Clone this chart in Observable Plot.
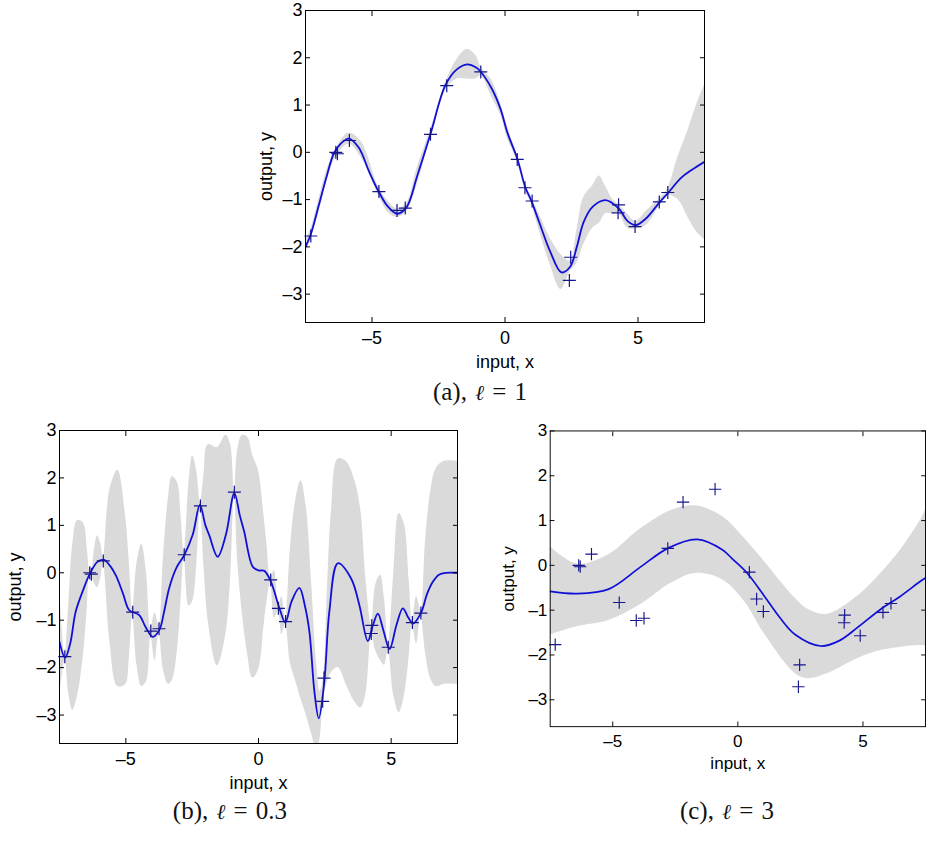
<!DOCTYPE html>
<html><head><meta charset="utf-8">
<script src="https://cdn.jsdelivr.net/npm/d3@7"></script>
<script src="https://cdn.jsdelivr.net/npm/@observablehq/plot@0.6"></script>
<style>
html,body{margin:0;padding:0;background:#fff;overflow:hidden;}
#root{position:relative;width:944px;height:841px;overflow:hidden;background:#fff;}
.panel{position:absolute;}
.cap{position:absolute;font-family:"Liberation Serif","DejaVu Serif",serif;font-size:25px;color:#111;transform:translate(-50%,-50%);white-space:nowrap;word-spacing:2px;}
.cap i{font-family:"DejaVu Serif",serif;font-style:italic;font-size:21px;}
</style></head><body><div id="root"></div><script>
// ---- data ----
const pointsX = [-7.3, -6.36, -6.3, -5.85, -4.74, -4.06, -3.75, -2.8, -2.19, -0.91, 0.46, 0.75, 1.02, 2.47, 2.42, 4.27, 4.25, 4.89, 5.8, 6.12];
const pointsY = [-1.77, 0.0, -0.03, 0.25, -0.83, -1.23, -1.18, 0.38, 1.41, 1.7, -0.15, -0.75, -1.03, -2.22, -2.71, -1.11, -1.28, -1.57, -1.05, -0.85];

// (a) l = 1
const meanAx = [-7.5, -7.31, -7.0, -6.7, -6.44, -6.2, -5.87, -5.5, -5.1, -4.74, -4.4, -4.05, -3.7, -3.3, -2.8, -2.24, -1.8, -1.42, -1.1, -0.92, -0.5, -0.17, 0.1, 0.46, 0.77, 0.98, 1.3, 1.7, 2.12, 2.45, 2.7, 2.96, 3.3, 3.78, 4.28, 4.6, 4.91, 5.3, 5.78, 6.16, 6.6, 7.0, 7.5];
const meanAy = [-2.0, -1.75, -1.12, -0.5, -0.03, 0.17, 0.29, 0.1, -0.42, -0.84, -1.15, -1.3, -1.16, -0.5, 0.39, 1.42, 1.76, 1.86, 1.8, 1.71, 1.35, 0.92, 0.4, -0.13, -0.75, -1.01, -1.5, -2.1, -2.54, -2.42, -2.0, -1.47, -1.15, -1.01, -1.19, -1.45, -1.54, -1.4, -1.08, -0.84, -0.55, -0.38, -0.2];
const bandAx = [-7.5, -7.31, -7.0, -6.7, -6.35, -5.87, -5.4, -4.74, -4.4, -4.05, -3.7, -3.3, -2.8, -2.2, -1.8, -1.42, -1.1, -0.9, -0.5, -0.17, 0.1, 0.46, 0.77, 0.98, 1.3, 1.7, 2.1, 2.45, 2.7, 2.96, 3.3, 3.55, 3.78, 4.05, 4.26, 4.6, 4.91, 5.3, 5.78, 6.12, 6.5, 6.9, 7.2, 7.5];
const bandAlo = [-2.15, -1.85, -1.28, -0.62, -0.1, 0.17, -0.12, -0.93, -1.27, -1.38, -1.25, -0.68, 0.3, 1.34, 1.55, 1.55, 1.55, 1.62, 1.17, 0.8, 0.28, -0.2, -0.82, -1.08, -1.68, -2.38, -2.9, -2.52, -2.35, -1.95, -1.6, -1.5, -1.3, -1.3, -1.28, -1.6, -1.62, -1.55, -1.16, -0.92, -1.0, -1.4, -1.68, -1.85];
const bandAhi = [-1.85, -1.65, -1.0, -0.38, 0.08, 0.41, 0.22, -0.75, -1.03, -1.2, -1.08, -0.32, 0.48, 1.52, 1.97, 2.18, 2.05, 1.8, 1.53, 1.04, 0.52, -0.06, -0.68, -0.94, -1.32, -1.82, -2.16, -2.3, -1.65, -0.95, -0.7, -0.5, -0.72, -1.0, -1.1, -1.3, -1.46, -1.25, -1.0, -0.76, -0.1, 0.5, 1.0, 1.42];

// (b) l = 0.3
const meanBx = [-7.5, -7.29, -7.1, -6.89, -6.6, -6.38, -6.07, -5.82, -5.6, -5.38, -5.1, -4.87, -4.5, -4.25, -3.99, -3.74, -3.55, -3.37, -3.1, -2.8, -2.48, -2.21, -2.0, -1.86, -1.54, -1.23, -0.91, -0.7, -0.54, -0.22, 0.0, 0.22, 0.47, 0.79, 1.01, 1.25, 1.54, 1.75, 1.92, 2.11, 2.27, 2.48, 2.67, 2.99, 3.49, 3.8, 4.12, 4.31, 4.5, 4.7, 4.94, 5.2, 5.44, 5.65, 5.82, 6.13, 6.35, 6.57, 6.8, 7.08, 7.5];
const meanBy = [-1.46, -1.79, -1.5, -0.82, -0.35, -0.05, 0.23, 0.27, 0.15, -0.05, -0.45, -0.79, -0.89, -1.15, -1.35, -1.21, -0.8, -0.33, 0.1, 0.37, 0.8, 1.43, 1.0, 0.8, 0.34, 0.8, 1.68, 1.2, 0.87, 0.13, 0.05, 0.04, -0.19, -0.75, -1.05, -0.6, -0.32, -0.7, -1.25, -2.52, -3.07, -2.3, -0.82, 0.2, -0.12, -0.68, -1.44, -1.11, -0.86, -1.2, -1.61, -1.1, -0.75, -0.95, -1.07, -0.84, -0.45, -0.19, -0.04, 0.0, 0.0];
const bandBx = [-7.5, -7.29, -7.15, -7.0, -6.82, -6.6, -6.45, -6.36, -6.3, -6.18, -6.07, -5.95, -5.85, -5.6, -5.3, -5.0, -4.88, -4.74, -4.58, -4.4, -4.22, -4.06, -3.9, -3.75, -3.58, -3.4, -3.25, -3.05, -2.92, -2.8, -2.62, -2.48, -2.33, -2.19, -2.05, -1.9, -1.55, -1.23, -1.05, -0.91, -0.78, -0.6, -0.4, -0.22, 0.0, 0.2, 0.32, 0.46, 0.6, 0.75, 0.88, 1.02, 1.2, 1.4, 1.6, 1.8, 2.0, 2.2, 2.32, 2.44, 2.6, 2.75, 3.0, 3.3, 3.6, 3.85, 4.05, 4.26, 4.42, 4.6, 4.75, 4.89, 5.1, 5.3, 5.5, 5.68, 5.8, 5.96, 6.12, 6.3, 6.5, 6.7, 7.0, 7.5];
const bandBlo = [-2.66, -1.84, -2.55, -2.9, -2.6, -1.75, -0.72, -0.05, -0.08, -0.22, -0.32, -0.12, 0.22, -1.45, -2.4, -2.35, -1.9, -0.9, -1.95, -2.4, -2.3, -1.33, -1.85, -1.25, -2.05, -2.35, -2.27, -1.6, -0.6, 0.33, -0.7, -0.6, 0.15, 1.37, 0.1, -1.0, -1.96, -1.3, -0.1, 1.65, 0.2, -0.9, -1.75, -2.22, -2.05, -1.16, -0.6, -0.2, -0.95, -0.8, -1.3, -1.08, -1.9, -2.28, -2.66, -3.0, -3.4, -3.75, -3.5, -2.7, -2.3, -2.1, -2.0, -2.35, -2.7, -2.85, -2.55, -1.3, -1.65, -1.85, -1.95, -1.62, -2.6, -2.95, -2.58, -1.77, -1.1, -1.5, -0.9, -1.7, -2.25, -2.4, -2.35, -2.35];
const bandBhi = [-0.26, -1.74, -0.65, 0.6, 1.1, 1.05, 0.48, 0.05, 0.02, 0.5, 0.78, 0.62, 0.3, 1.75, 2.16, 1.15, 0.3, -0.78, 0.2, 0.6, 0.0, -1.18, -0.85, -1.12, 0.35, 1.55, 2.03, 1.9, 1.2, 0.43, 1.9, 2.47, 2.15, 1.47, 2.1, 2.7, 2.64, 2.9, 2.7, 1.75, 2.6, 2.9, 2.85, 2.48, 2.15, 1.24, 0.6, -0.1, 0.05, -0.7, -0.5, -0.98, 0.5, 1.52, 1.94, 1.4, -0.2, -1.95, -2.5, -2.25, -0.3, 1.3, 2.4, 2.35, 2.0, 1.35, -0.15, -1.1, -0.25, -0.05, -0.55, -1.52, 0.0, 1.25, 1.02, -0.17, -1.0, -0.5, -0.8, 0.7, 1.75, 2.2, 2.35, 2.35];

// (c) l = 3
const meanCx = [-7.5, -6.43, -5.16, -3.9, -2.77, -1.63, -0.62, -0.23, 0.35, 1.04, 1.67, 2.3, 3.31, 4.06, 4.82, 5.71, 6.47, 7.31, 7.5];
const meanCy = [-0.58, -0.63, -0.53, -0.04, 0.39, 0.58, 0.35, 0.15, -0.16, -0.67, -1.16, -1.55, -1.8, -1.68, -1.37, -0.98, -0.7, -0.35, -0.28];
const bandCx = [-7.5, -6.43, -5.16, -3.9, -2.64, -1.7, -0.62, 0.27, 1.04, 2.3, 2.8, 3.56, 4.82, 5.71, 6.47, 7.31, 7.5];
const bandClo = [-1.55, -1.37, -1.23, -0.88, -0.39, -0.18, -0.32, -0.81, -1.51, -2.42, -2.53, -2.42, -2.07, -1.9, -1.83, -1.79, -1.8];
const bandChi = [0.42, 0.03, 0.24, 0.81, 1.23, 1.33, 1.09, 0.6, 0.1, -0.74, -0.98, -1.09, -0.67, -0.18, 0.32, 1.02, 1.25];

const xTicks = [-5, 0, 5];
const yTicks = [-3, -2, -1, 0, 1, 2, 3];
const xDomain = [-7.5, 7.5];
const yDomain = [-3.6, 3];
const captions = ["(a), ", "(b), ", "(c), "];
const ellValues = ["1", "0.3", "3"];

// ---- build ----
const points = pointsX.map((x, i) => ({x, y: pointsY[i]}));
const rows = (xs, ys) => xs.map((x, i) => ({x, y: ys[i]}));
const bandRows = (xs, lo, hi) => xs.map((x, i) => ({x, lo: lo[i], hi: hi[i]}));
const fmt = (d) => String(d).replace("-", "\u2013");

const plusSymbol = {
  draw(context, size) {
    const r = Math.sqrt(size / Math.PI);
    context.moveTo(-r, 0); context.lineTo(r, 0);
    context.moveTo(0, -r); context.lineTo(0, r);
  }
};

const root = document.getElementById("root");

function makePanel({left, top, marginLeft, frameW, frameH, mean, band, yLabelOffset}) {
  const marginTop = 10, marginBottom = 55, marginRight = 20;
  const chart = Plot.plot({
    width: marginLeft + frameW + marginRight,
    height: marginTop + frameH + marginBottom,
    marginLeft, marginTop, marginBottom, marginRight,
    x: {domain: xDomain},
    y: {domain: yDomain},
    style: {fontFamily: '"Liberation Sans", Arial, Helvetica, sans-serif', fontSize: "18px", background: "transparent", color: "#000"},
    marks: [
      Plot.areaY(band, {x: "x", y1: "lo", y2: "hi", fill: "#dadada", curve: "catmull-rom", clip: true}),
      Plot.line(mean, {x: "x", y: "y", stroke: "#1010d8", strokeWidth: 1.8, curve: "catmull-rom", clip: true}),
      Plot.dot(points, {x: "x", y: "y", symbol: plusSymbol, r: 6.5, stroke: "#14148c", strokeWidth: 1.2, fill: "none"}),
      Plot.axisX({ticks: xTicks, tickFormat: fmt, tickSize: -5, tickPadding: 14, fontSize: 18, label: "input, x", labelArrow: "none", labelAnchor: "center", labelOffset: 45}),
      Plot.axisX({anchor: "top", ticks: xTicks, tickSize: -5, tickFormat: () => "", label: null}),
      Plot.axisY({ticks: yTicks, tickFormat: fmt, tickSize: -5, tickPadding: 8, fontSize: 18, label: "output, y", labelArrow: "none", labelAnchor: "center", labelOffset: yLabelOffset}),
      Plot.axisY({anchor: "right", ticks: yTicks, tickSize: -5, tickFormat: () => "", label: null}),
      Plot.frame({stroke: "#000", strokeWidth: 1})
    ]
  });
  const div = document.createElement("div");
  div.className = "panel";
  div.style.left = left + "px";
  div.style.top = top + "px";
  div.appendChild(chart);
  root.appendChild(div);
}

function addCaption(i, cx, cy) {
  const d = document.createElement("div");
  d.className = "cap";
  d.style.left = cx + "px";
  d.style.top = cy + "px";
  d.innerHTML = captions[i] + "<i>ℓ</i> = " + ellValues[i];
  root.appendChild(d);
}

makePanel({left: 235, top: 0, marginLeft: 70, frameW: 399, frameH: 312,
  mean: rows(meanAx, meanAy), band: bandRows(bandAx, bandAlo, bandAhi), yLabelOffset: 46});
makePanel({left: 0, top: 420, marginLeft: 59, frameW: 398, frameH: 313,
  mean: rows(meanBx, meanBy), band: bandRows(bandBx, bandBlo, bandBhi), yLabelOffset: 51});
makePanel({left: 490, top: 421, marginLeft: 63, frameW: 396, frameH: 312,
  mean: rows(meanCx, meanCy), band: bandRows(bandCx, bandClo, bandChi), yLabelOffset: 51});

addCaption(0, 480, 392);
addCaption(1, 230, 811);
addCaption(2, 727, 811);
</script></body></html>
